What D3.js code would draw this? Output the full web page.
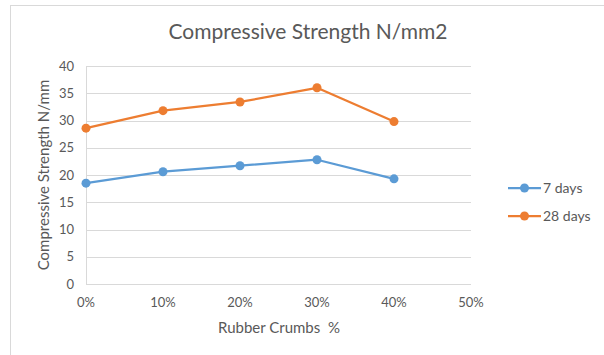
<!DOCTYPE html>
<html>
<head>
<meta charset="utf-8">
<script src="https://cdn.jsdelivr.net/npm/d3@7"></script>
<style>
  body { margin: 0; background: #fff; }
  text { font-family: Lato, "Open Sans", sans-serif; fill: #595959; white-space: pre; }
</style>
</head>
<body>
<div id="chart"></div>
<script>
// data
const rubber = [0, 0.1, 0.2, 0.3, 0.4];
const days7 = [18.5, 20.6, 21.7, 22.8, 19.3];
const days28 = [28.6, 31.8, 33.4, 36.0, 29.8];
const seriesNames = ["7 days", "28 days"];
const yTicks = [0, 5, 10, 15, 20, 25, 30, 35, 40];
const xTicks = [0, 0.1, 0.2, 0.3, 0.4, 0.5];

const W = 604, H = 355;
const colors = ["#5b9bd5", "#ed7d31"];

const svg = d3.select("#chart").append("svg")
    .attr("width", W)
    .attr("height", H);

// outer chart border
svg.append("rect")
    .attr("x", 10.5).attr("y", 5.5)
    .attr("width", W).attr("height", H)
    .attr("fill", "none")
    .attr("stroke", "#d9d9d9");

const x = d3.scaleLinear().domain([0, 0.5]).range([86, 471]);
const y = d3.scaleLinear().domain([0, 40]).range([284, 66]);

// gridlines
svg.append("g")
    .selectAll("line")
    .data(yTicks)
    .join("line")
    .attr("x1", x(0)).attr("x2", x(0.5))
    .attr("y1", d => Math.round(y(d)) + 0.5)
    .attr("y2", d => Math.round(y(d)) + 0.5)
    .attr("stroke", "#d9d9d9");

// left axis line
svg.append("line")
    .attr("x1", x(0) + 0.5).attr("x2", x(0) + 0.5)
    .attr("y1", y(40)).attr("y2", y(0))
    .attr("stroke", "#d9d9d9");

// y tick labels
svg.append("g")
    .selectAll("text")
    .data(yTicks)
    .join("text")
    .attr("x", 74)
    .attr("y", d => y(d))
    .attr("dy", "0.35em")
    .attr("text-anchor", "end")
    .style("font-size", "13px")
    .text(d => d);

// x tick labels
svg.append("g")
    .selectAll("text")
    .data(xTicks)
    .join("text")
    .attr("x", d => x(d))
    .attr("y", 307)
    .attr("text-anchor", "middle")
    .style("font-size", "13px")
    .text(d3.format(".0%"));

// title
svg.append("text")
    .attr("x", 308).attr("y", 39)
    .attr("text-anchor", "middle")
    .style("font-size", "21px")
    .text("Compressive Strength N/mm2");

// axis titles
svg.append("text")
    .attr("x", 279).attr("y", 333)
    .attr("text-anchor", "middle")
    .style("font-size", "15px")
    .text("Rubber Crumbs  %");

svg.append("text")
    .attr("transform", "translate(49,175) rotate(-90)")
    .attr("text-anchor", "middle")
    .style("font-size", "15px")
    .text("Compressive Strength N/mm");

// series
const dataReady = [days7, days28].map((vals, i) => ({
    name: seriesNames[i],
    color: colors[i],
    values: rubber.map((r, j) => ({r: r, v: vals[j]}))
}));

const line = d3.line()
    .x(d => x(d.r))
    .y(d => y(d.v));

svg.selectAll("path.series")
    .data(dataReady)
    .join("path")
    .attr("class", "series")
    .attr("d", d => line(d.values))
    .attr("fill", "none")
    .attr("stroke", d => d.color)
    .attr("stroke-width", 2.25)
    .attr("stroke-linejoin", "round");

svg.selectAll("g.dots")
    .data(dataReady)
    .join("g")
    .attr("class", "dots")
    .attr("fill", d => d.color)
    .selectAll("circle")
    .data(d => d.values)
    .join("circle")
    .attr("cx", d => x(d.r))
    .attr("cy", d => y(d.v))
    .attr("r", 4.5);

// legend
const leg = svg.selectAll("g.legend")
    .data(dataReady)
    .join("g")
    .attr("class", "legend")
    .attr("transform", (d, i) => `translate(508,${188 + i * 28})`);
leg.append("line")
    .attr("x1", 0).attr("x2", 33)
    .attr("stroke", d => d.color)
    .attr("stroke-width", 2.25);
leg.append("circle")
    .attr("cx", 16.5).attr("r", 4.5)
    .attr("fill", d => d.color);
leg.append("text")
    .attr("x", 35)
    .attr("dy", "0.35em")
    .style("font-size", "14px")
    .text(d => d.name);
</script>
</body>
</html>
